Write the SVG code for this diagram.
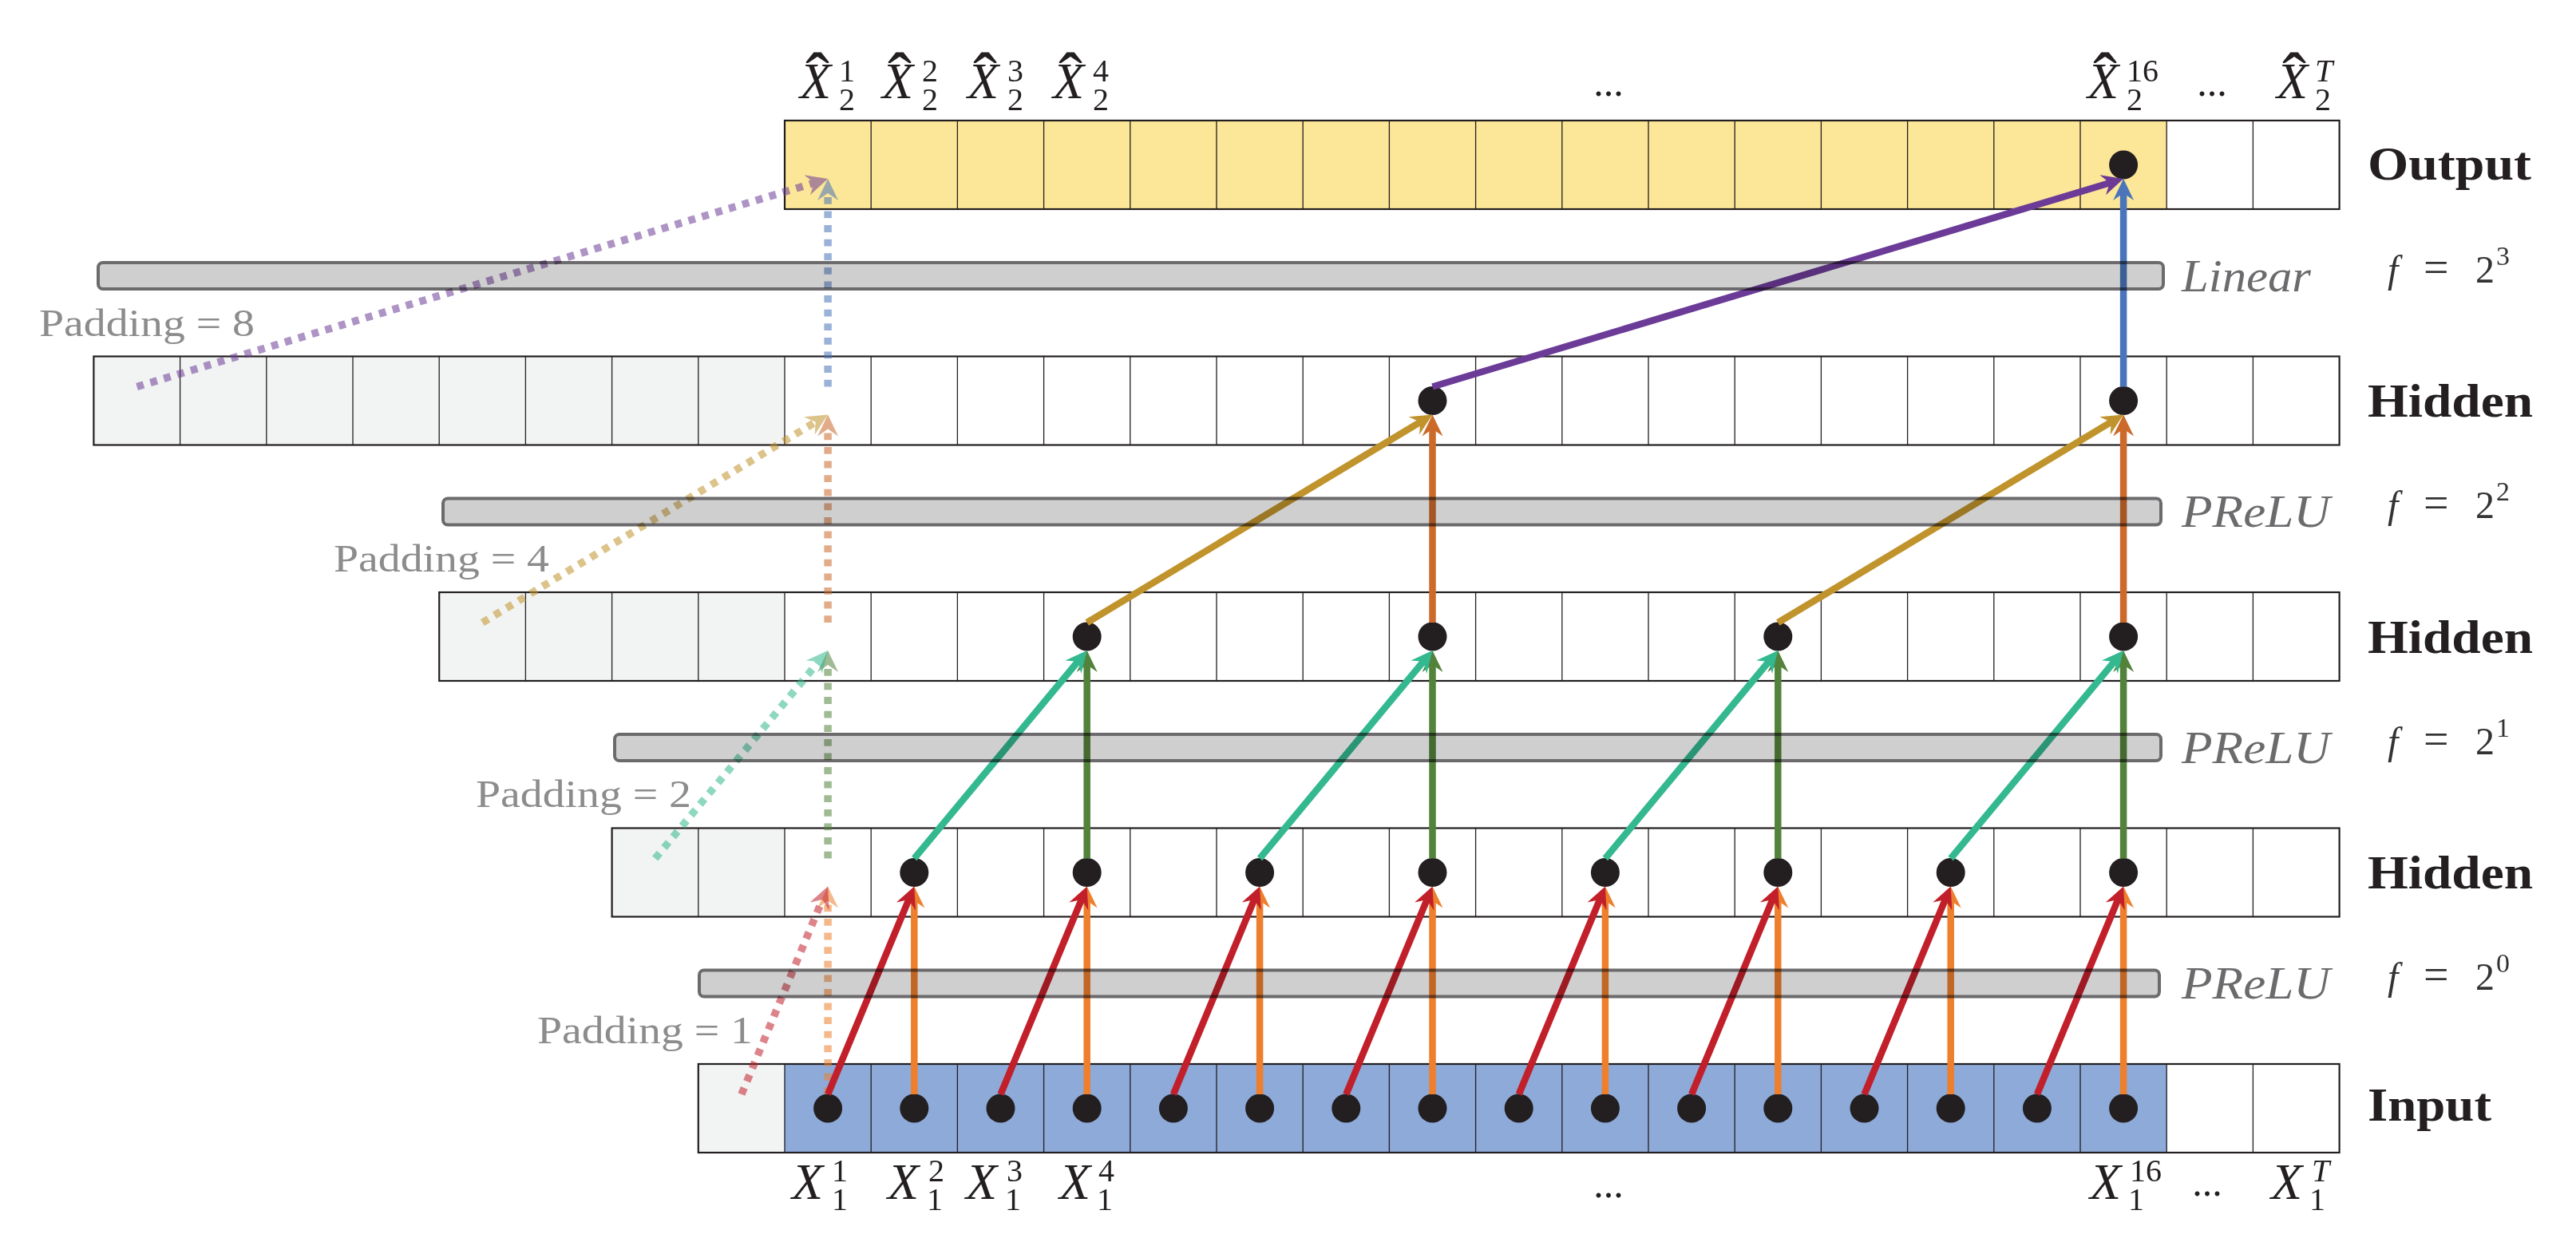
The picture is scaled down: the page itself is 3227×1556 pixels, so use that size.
<svg xmlns="http://www.w3.org/2000/svg" width="3227" height="1556" viewBox="0 0 3227 1556">
<style>
.cell{stroke:#231f20;stroke-width:1.3;fill:none}
.border{stroke:#231f20;stroke-width:2.2;fill:none}
.pad{fill:#f2f4f3}
.yel{fill:#fce697}
.blu{fill:#8eaad9}
.bar{fill:#cfcfcf;stroke:#6c6a6d;stroke-width:4;mix-blend-mode:multiply}
.dot{fill:#231f20}
.c{fill:none;stroke-width:8.5}
.d{fill:none;stroke-width:9.5;stroke-dasharray:8.8 8.8;opacity:0.55}
text{font-family:"Liberation Serif","Times New Roman",serif;fill:#231f20}
.b{font-weight:bold;font-size:60px}
.op{font-style:italic;font-size:58px;fill:#6c6a6d}
.pd{font-size:48px;fill:#8c8c8c}
.X{font-style:italic;font-size:64px}
.s{font-size:40px;font-style:normal}
.si{font-size:40px;font-style:italic}
.hat{font-size:90px;text-anchor:middle}
.dots{font-size:50px;text-anchor:middle}
.fl{font-size:48px;fill:#333}
.fi{font-style:italic}
.eq{font-size:56px}
.fs{font-size:34px}
</style>
<defs>
<path id="vl" class="cell" d="M983,0v111M1091.2,0v111M1199.4,0v111M1307.6,0v111M1415.8,0v111M1524,0v111M1632.2,0v111M1740.4,0v111M1848.6,0v111M1956.8,0v111M2065,0v111M2173.2,0v111M2281.4,0v111M2389.6,0v111M2497.8,0v111M2606,0v111M2714.2,0v111M2822.4,0v111"/>
<marker id="a-red" markerUnits="userSpaceOnUse" orient="auto" overflow="visible" markerWidth="40" markerHeight="40"><path d="M14,0L-13,-13L-4,0L-13,13Z" fill="#c1202b"/></marker>
<marker id="a-orange" markerUnits="userSpaceOnUse" orient="auto" overflow="visible" markerWidth="40" markerHeight="40"><path d="M14,0L-13,-13L-4,0L-13,13Z" fill="#ee7f2d"/></marker>
<marker id="a-teal" markerUnits="userSpaceOnUse" orient="auto" overflow="visible" markerWidth="40" markerHeight="40"><path d="M14,0L-13,-13L-4,0L-13,13Z" fill="#33b88f"/></marker>
<marker id="a-green" markerUnits="userSpaceOnUse" orient="auto" overflow="visible" markerWidth="40" markerHeight="40"><path d="M14,0L-13,-13L-4,0L-13,13Z" fill="#53823b"/></marker>
<marker id="a-gold" markerUnits="userSpaceOnUse" orient="auto" overflow="visible" markerWidth="40" markerHeight="40"><path d="M14,0L-13,-13L-4,0L-13,13Z" fill="#c0932c"/></marker>
<marker id="a-brown" markerUnits="userSpaceOnUse" orient="auto" overflow="visible" markerWidth="40" markerHeight="40"><path d="M14,0L-13,-13L-4,0L-13,13Z" fill="#cc6a2b"/></marker>
<marker id="a-purple" markerUnits="userSpaceOnUse" orient="auto" overflow="visible" markerWidth="40" markerHeight="40"><path d="M14,0L-13,-13L-4,0L-13,13Z" fill="#6c3b97"/></marker>
<marker id="a-blue" markerUnits="userSpaceOnUse" orient="auto" overflow="visible" markerWidth="40" markerHeight="40"><path d="M14,0L-13,-13L-4,0L-13,13Z" fill="#4a75ba"/></marker>
</defs>
<rect width="3227" height="1556" fill="#fff"/>

<g id="output-row">
<rect class="yel" x="983" y="151" width="1731.2" height="111"/>
<use href="#vl" y="151"/>
<rect class="border" x="983" y="151" width="1947.6" height="111"/>
<circle class="dot" cx="2660.1" cy="206.5" r="18"/>
<text class="b" x="2966" y="225" textLength="205" lengthAdjust="spacingAndGlyphs">Output</text>
<text><tspan class="hat" x="1024" y="129">ˆ</tspan><tspan class="X" x="1002" y="123">X</tspan><tspan class="s" x="1051" y="102">1</tspan><tspan class="s" x="1051" y="138">2</tspan></text>
<text><tspan class="hat" x="1127" y="129">ˆ</tspan><tspan class="X" x="1105" y="123">X</tspan><tspan class="s" x="1155" y="102">2</tspan><tspan class="s" x="1155" y="138">2</tspan></text>
<text><tspan class="hat" x="1234" y="129">ˆ</tspan><tspan class="X" x="1212" y="123">X</tspan><tspan class="s" x="1262" y="102">3</tspan><tspan class="s" x="1262" y="138">2</tspan></text>
<text><tspan class="hat" x="1341" y="129">ˆ</tspan><tspan class="X" x="1319" y="123">X</tspan><tspan class="s" x="1369" y="102">4</tspan><tspan class="s" x="1369" y="138">2</tspan></text>
<text class="dots" x="2015" y="120">...</text>
<text><tspan class="hat" x="2637" y="129">ˆ</tspan><tspan class="X" x="2615" y="123">X</tspan><tspan class="s" x="2664" y="102">16</tspan><tspan class="s" x="2664" y="138">2</tspan></text>
<text class="dots" x="2771" y="120">...</text>
<text><tspan class="hat" x="2874" y="129">ˆ</tspan><tspan class="X" x="2852" y="123">X</tspan><tspan class="si" x="2900" y="102">T</tspan><tspan class="s" x="2900" y="138">2</tspan></text>
</g>

<g id="hidden3-row">
<rect class="pad" x="117.4" y="446.5" width="865.6" height="111"/>
<use href="#vl" y="446.5"/>
<path class="cell" d="M225.6,446.5v111M333.8,446.5v111M442,446.5v111M550.2,446.5v111M658.4,446.5v111M766.6,446.5v111M874.8,446.5v111"/>
<rect class="border" x="117.4" y="446.5" width="2813.2" height="111"/>
<circle class="dot" cx="1794.5" cy="502" r="18"/>
<circle class="dot" cx="2660.1" cy="502" r="18"/>
<text class="b" x="2966" y="522" textLength="207" lengthAdjust="spacingAndGlyphs">Hidden</text>
<text class="pd" x="49" y="421" textLength="270" lengthAdjust="spacingAndGlyphs">Padding = 8</text>
</g>

<g id="hidden2-row">
<rect class="pad" x="550.2" y="742" width="432.8" height="111"/>
<use href="#vl" y="742"/>
<path class="cell" d="M658.4,742v111M766.6,742v111M874.8,742v111"/>
<rect class="border" x="550.2" y="742" width="2380.4" height="111"/>
<circle class="dot" cx="1361.7" cy="797.5" r="18"/>
<circle class="dot" cx="1794.5" cy="797.5" r="18"/>
<circle class="dot" cx="2227.3" cy="797.5" r="18"/>
<circle class="dot" cx="2660.1" cy="797.5" r="18"/>
<text class="b" x="2966" y="817.5" textLength="207" lengthAdjust="spacingAndGlyphs">Hidden</text>
<text class="pd" x="418" y="716" textLength="270" lengthAdjust="spacingAndGlyphs">Padding = 4</text>
</g>

<g id="hidden1-row">
<rect class="pad" x="766.6" y="1037.5" width="216.4" height="111"/>
<use href="#vl" y="1037.5"/>
<path class="cell" d="M874.8,1037.5v111"/>
<rect class="border" x="766.6" y="1037.5" width="2164" height="111"/>
<circle class="dot" cx="1145.3" cy="1093" r="18"/>
<circle class="dot" cx="1361.7" cy="1093" r="18"/>
<circle class="dot" cx="1578.1" cy="1093" r="18"/>
<circle class="dot" cx="1794.5" cy="1093" r="18"/>
<circle class="dot" cx="2010.9" cy="1093" r="18"/>
<circle class="dot" cx="2227.3" cy="1093" r="18"/>
<circle class="dot" cx="2443.7" cy="1093" r="18"/>
<circle class="dot" cx="2660.1" cy="1093" r="18"/>
<text class="b" x="2966" y="1113" textLength="207" lengthAdjust="spacingAndGlyphs">Hidden</text>
<text class="pd" x="596" y="1011" textLength="270" lengthAdjust="spacingAndGlyphs">Padding = 2</text>
</g>

<g id="input-row">
<rect class="pad" x="874.8" y="1333" width="108.2" height="111"/>
<rect class="blu" x="983" y="1333" width="1731.2" height="111"/>
<use href="#vl" y="1333"/>
<rect class="border" x="874.8" y="1333" width="2055.8" height="111"/>
<circle class="dot" cx="1037.1" cy="1388.5" r="18"/>
<circle class="dot" cx="1145.3" cy="1388.5" r="18"/>
<circle class="dot" cx="1253.5" cy="1388.5" r="18"/>
<circle class="dot" cx="1361.7" cy="1388.5" r="18"/>
<circle class="dot" cx="1469.9" cy="1388.5" r="18"/>
<circle class="dot" cx="1578.1" cy="1388.5" r="18"/>
<circle class="dot" cx="1686.3" cy="1388.5" r="18"/>
<circle class="dot" cx="1794.5" cy="1388.5" r="18"/>
<circle class="dot" cx="1902.7" cy="1388.5" r="18"/>
<circle class="dot" cx="2010.9" cy="1388.5" r="18"/>
<circle class="dot" cx="2119.1" cy="1388.5" r="18"/>
<circle class="dot" cx="2227.3" cy="1388.5" r="18"/>
<circle class="dot" cx="2335.5" cy="1388.5" r="18"/>
<circle class="dot" cx="2443.7" cy="1388.5" r="18"/>
<circle class="dot" cx="2551.9" cy="1388.5" r="18"/>
<circle class="dot" cx="2660.1" cy="1388.5" r="18"/>
<text class="b" x="2966" y="1404" textLength="155" lengthAdjust="spacingAndGlyphs">Input</text>
<text class="pd" x="673" y="1307" textLength="270" lengthAdjust="spacingAndGlyphs">Padding = 1</text>
<text><tspan class="X" x="992" y="1502">X</tspan><tspan class="s" x="1042" y="1480">1</tspan><tspan class="s" x="1042" y="1516">1</tspan></text>
<text><tspan class="X" x="1112" y="1502">X</tspan><tspan class="s" x="1163" y="1480">2</tspan><tspan class="s" x="1161" y="1516">1</tspan></text>
<text><tspan class="X" x="1210" y="1502">X</tspan><tspan class="s" x="1261" y="1480">3</tspan><tspan class="s" x="1259" y="1516">1</tspan></text>
<text><tspan class="X" x="1327" y="1502">X</tspan><tspan class="s" x="1376" y="1480">4</tspan><tspan class="s" x="1374" y="1516">1</tspan></text>
<text class="dots" x="2015" y="1500">...</text>
<text><tspan class="X" x="2618" y="1502">X</tspan><tspan class="s" x="2668" y="1480">16</tspan><tspan class="s" x="2666" y="1516">1</tspan></text>
<text class="dots" x="2765" y="1498">...</text>
<text><tspan class="X" x="2845" y="1502">X</tspan><tspan class="si" x="2896" y="1480">T</tspan><tspan class="s" x="2893" y="1516">1</tspan></text>
</g>

<g id="connectors">
<line class="d" stroke="#ee7f2d" marker-end="url(#a-orange)" x1="1037.1" y1="1371" x2="1037.1" y2="1124.5"/>
<line class="d" stroke="#c1202b" marker-end="url(#a-red)" x1="928.9" y1="1371" x2="1031.73" y2="1123.43"/>
<line class="d" stroke="#53823b" marker-end="url(#a-green)" x1="1037.1" y1="1075.5" x2="1037.1" y2="829"/>
<line class="d" stroke="#33b88f" marker-end="url(#a-teal)" x1="820.7" y1="1075.5" x2="1028.15" y2="825.77"/>
<line class="d" stroke="#cc6a2b" marker-end="url(#a-brown)" x1="1037.1" y1="780" x2="1037.1" y2="533.5"/>
<line class="d" stroke="#c0932c" marker-end="url(#a-gold)" x1="604.3" y1="780" x2="1025.1" y2="526.72"/>
<line class="d" stroke="#4a75ba" marker-end="url(#a-blue)" x1="1037.1" y1="484.5" x2="1037.1" y2="238"/>
<line class="d" stroke="#6c3b97" marker-end="url(#a-purple)" x1="171.5" y1="484.5" x2="1023.69" y2="228.03"/>

<line class="c" stroke="#ee7f2d" marker-end="url(#a-orange)" x1="1145.3" y1="1371" x2="1145.3" y2="1124.5"/>
<line class="c" stroke="#ee7f2d" marker-end="url(#a-orange)" x1="1361.7" y1="1371" x2="1361.7" y2="1124.5"/>
<line class="c" stroke="#ee7f2d" marker-end="url(#a-orange)" x1="1578.1" y1="1371" x2="1578.1" y2="1124.5"/>
<line class="c" stroke="#ee7f2d" marker-end="url(#a-orange)" x1="1794.5" y1="1371" x2="1794.5" y2="1124.5"/>
<line class="c" stroke="#ee7f2d" marker-end="url(#a-orange)" x1="2010.9" y1="1371" x2="2010.9" y2="1124.5"/>
<line class="c" stroke="#ee7f2d" marker-end="url(#a-orange)" x1="2227.3" y1="1371" x2="2227.3" y2="1124.5"/>
<line class="c" stroke="#ee7f2d" marker-end="url(#a-orange)" x1="2443.7" y1="1371" x2="2443.7" y2="1124.5"/>
<line class="c" stroke="#ee7f2d" marker-end="url(#a-orange)" x1="2660.1" y1="1371" x2="2660.1" y2="1124.5"/>
<line class="c" stroke="#c1202b" marker-end="url(#a-red)" x1="1037.1" y1="1371" x2="1139.93" y2="1123.43"/>
<line class="c" stroke="#c1202b" marker-end="url(#a-red)" x1="1253.5" y1="1371" x2="1356.33" y2="1123.43"/>
<line class="c" stroke="#c1202b" marker-end="url(#a-red)" x1="1469.9" y1="1371" x2="1572.73" y2="1123.43"/>
<line class="c" stroke="#c1202b" marker-end="url(#a-red)" x1="1686.3" y1="1371" x2="1789.13" y2="1123.43"/>
<line class="c" stroke="#c1202b" marker-end="url(#a-red)" x1="1902.7" y1="1371" x2="2005.53" y2="1123.43"/>
<line class="c" stroke="#c1202b" marker-end="url(#a-red)" x1="2119.1" y1="1371" x2="2221.93" y2="1123.43"/>
<line class="c" stroke="#c1202b" marker-end="url(#a-red)" x1="2335.5" y1="1371" x2="2438.33" y2="1123.43"/>
<line class="c" stroke="#c1202b" marker-end="url(#a-red)" x1="2551.9" y1="1371" x2="2654.73" y2="1123.43"/>

<line class="c" stroke="#53823b" marker-end="url(#a-green)" x1="1361.7" y1="1075.5" x2="1361.7" y2="829"/>
<line class="c" stroke="#53823b" marker-end="url(#a-green)" x1="1794.5" y1="1075.5" x2="1794.5" y2="829"/>
<line class="c" stroke="#53823b" marker-end="url(#a-green)" x1="2227.3" y1="1075.5" x2="2227.3" y2="829"/>
<line class="c" stroke="#53823b" marker-end="url(#a-green)" x1="2660.1" y1="1075.5" x2="2660.1" y2="829"/>
<line class="c" stroke="#33b88f" marker-end="url(#a-teal)" x1="1145.3" y1="1075.5" x2="1352.75" y2="825.77"/>
<line class="c" stroke="#33b88f" marker-end="url(#a-teal)" x1="1578.1" y1="1075.5" x2="1785.55" y2="825.77"/>
<line class="c" stroke="#33b88f" marker-end="url(#a-teal)" x1="2010.9" y1="1075.5" x2="2218.35" y2="825.77"/>
<line class="c" stroke="#33b88f" marker-end="url(#a-teal)" x1="2443.7" y1="1075.5" x2="2651.15" y2="825.77"/>

<line class="c" stroke="#c0932c" marker-end="url(#a-gold)" x1="1361.7" y1="780" x2="1782.5" y2="526.72"/>
<line class="c" stroke="#c0932c" marker-end="url(#a-gold)" x1="2227.3" y1="780" x2="2648.1" y2="526.72"/>
<line class="c" stroke="#cc6a2b" marker-end="url(#a-brown)" x1="1794.5" y1="780" x2="1794.5" y2="533.5"/>
<line class="c" stroke="#cc6a2b" marker-end="url(#a-brown)" x1="2660.1" y1="780" x2="2660.1" y2="533.5"/>

<line class="c" stroke="#6c3b97" marker-end="url(#a-purple)" x1="1794.5" y1="484.5" x2="2646.69" y2="228.03"/>
<line class="c" stroke="#4a75ba" marker-end="url(#a-blue)" x1="2660.1" y1="484.5" x2="2660.1" y2="238"/>
</g>

<g id="linear-bar">
<rect class="bar" x="123" y="329" width="2587" height="33" rx="6"/>
<text class="op" x="2733" y="364.5" textLength="162" lengthAdjust="spacingAndGlyphs">Linear</text>
<text class="fl"><tspan class="fi" x="2991" y="353.5">f</tspan><tspan class="eq" x="3036" y="353.5">=</tspan><tspan x="3101" y="353.5">2</tspan><tspan class="fs" x="3127" y="331.5">3</tspan></text>
</g>
<g id="prelu2-bar">
<rect class="bar" x="555" y="624.5" width="2152" height="33" rx="6"/>
<text class="op" x="2733" y="660" textLength="186" lengthAdjust="spacingAndGlyphs">PReLU</text>
<text class="fl"><tspan class="fi" x="2991" y="649">f</tspan><tspan class="eq" x="3036" y="649">=</tspan><tspan x="3101" y="649">2</tspan><tspan class="fs" x="3127" y="627">2</tspan></text>
</g>
<g id="prelu1-bar">
<rect class="bar" x="770" y="920" width="1937" height="33" rx="6"/>
<text class="op" x="2733" y="955.5" textLength="186" lengthAdjust="spacingAndGlyphs">PReLU</text>
<text class="fl"><tspan class="fi" x="2991" y="944.5">f</tspan><tspan class="eq" x="3036" y="944.5">=</tspan><tspan x="3101" y="944.5">2</tspan><tspan class="fs" x="3127" y="922.5">1</tspan></text>
</g>
<g id="prelu0-bar">
<rect class="bar" x="876" y="1215.5" width="1829" height="33" rx="6"/>
<text class="op" x="2733" y="1251" textLength="186" lengthAdjust="spacingAndGlyphs">PReLU</text>
<text class="fl"><tspan class="fi" x="2991" y="1240">f</tspan><tspan class="eq" x="3036" y="1240">=</tspan><tspan x="3101" y="1240">2</tspan><tspan class="fs" x="3127" y="1218">0</tspan></text>
</g>
</svg>
